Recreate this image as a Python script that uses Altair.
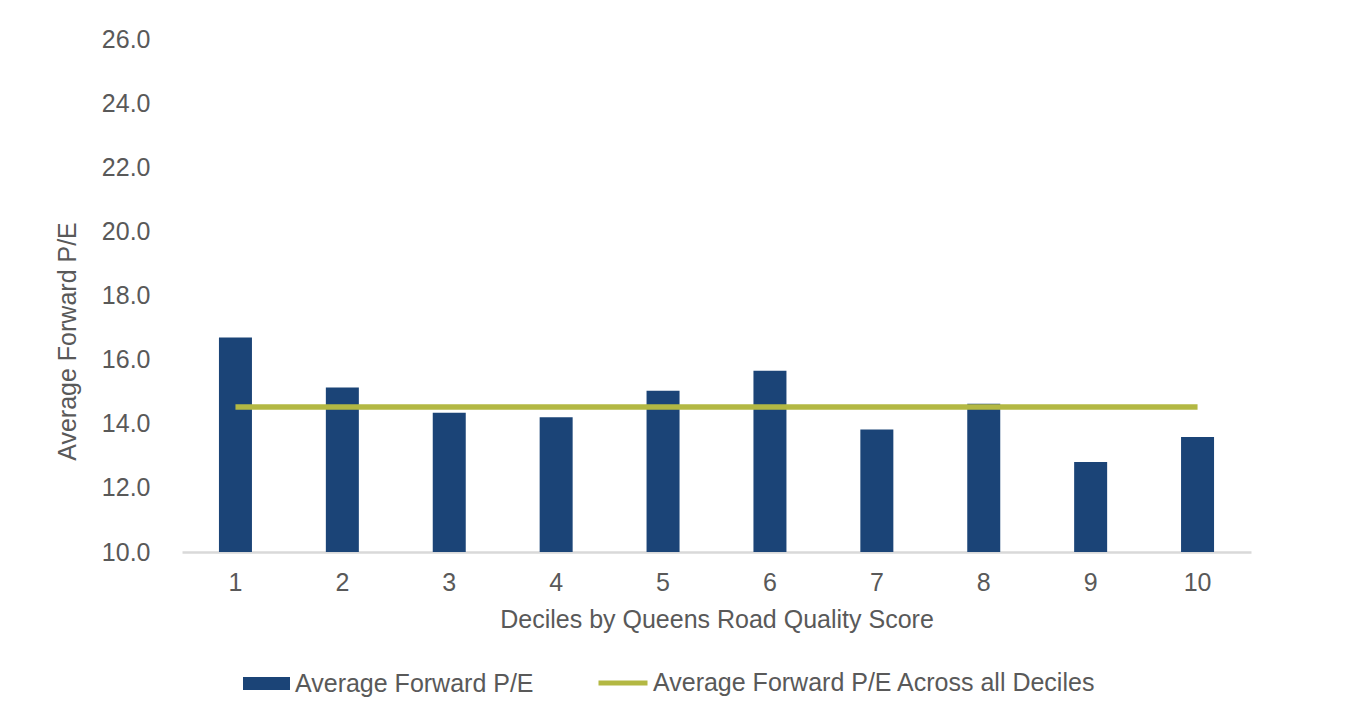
import altair as alt
import pandas as pd

deciles = [1, 2, 3, 4, 5, 6, 7, 8, 9, 10]
avg_pe = [16.69, 15.13, 14.34, 14.20, 15.03, 15.65, 13.82, 14.62, 12.81, 13.59]
overall_avg = 14.52
bar_series = "Average Forward P/E"
line_series = "Average Forward P/E Across all Deciles"
y_ticks = [10, 12, 14, 16, 18, 20, 22, 24, 26]

FONT = "Liberation Sans"
GRAY = "#595959"
BAR_COLOR = "#1B4477"
LINE_COLOR = "#B3B843"
FS = 25

bars_df = pd.DataFrame({"decile": deciles, "pe": avg_pe, "series": bar_series})
line_df = pd.DataFrame({
    "decile": [deciles[0], deciles[-1]],
    "pe": [overall_avg, overall_avg],
    "series": line_series,
})

x_enc = alt.X(
    "decile:O",
    sort=deciles,
    title="Deciles by Queens Road Quality Score",
    scale=alt.Scale(paddingInner=0.69, paddingOuter=0.345),
    axis=alt.Axis(
        labelAngle=0, ticks=False, domainColor="#D9D9D9", domainWidth=2.5,
        labelPadding=18, titlePadding=12, labelFontSize=FS, titleFontSize=FS,
        labelColor=GRAY, titleColor=GRAY, labelFont=FONT, titleFont=FONT,
        titleFontWeight="normal",
    ),
)
y_enc = alt.Y(
    "pe:Q",
    title="Average Forward P/E",
    scale=alt.Scale(domain=[10, 26], zero=False, nice=False),
    axis=alt.Axis(
        values=y_ticks, format=".1f", grid=False, domain=False, ticks=False,
        labelPadding=32, titlePadding=21, titleY=302,
        labelFontSize=FS, titleFontSize=FS,
        labelColor=GRAY, titleColor=GRAY, labelFont=FONT, titleFont=FONT,
        titleFontWeight="normal",
    ),
)

bars = alt.Chart(bars_df).mark_bar(size=33, clip=True).encode(
    x=x_enc,
    y=y_enc,
    color=alt.Color(
        "series:N",
        scale=alt.Scale(domain=[bar_series], range=[BAR_COLOR]),
        legend=alt.Legend(
            title=None, orient="none", legendX=61, legendY=621,
            symbolType="M-1,-0.28H1V0.28H-1Z", symbolSize=2209,
            symbolStrokeWidth=0, labelOffset=5, labelLimit=0,
            labelFontSize=FS, labelFont=FONT, labelColor=GRAY,
        ),
    ),
)

line = alt.Chart(line_df).mark_line(strokeWidth=5.5).encode(
    x=alt.X("decile:O", sort=deciles),
    y=alt.Y("pe:Q"),
    stroke=alt.Stroke(
        "series:N",
        scale=alt.Scale(domain=[line_series], range=[LINE_COLOR]),
        legend=alt.Legend(
            title=None, orient="none", legendX=414, legendY=617,
            symbolType="stroke", symbolSize=2401, symbolStrokeWidth=5,
            labelOffset=3, labelLimit=0,
            labelFontSize=FS, labelFont=FONT, labelColor=GRAY,
        ),
    ),
)

chart = alt.layer(bars, line).resolve_scale(color="independent").properties(
    width=1069,
    height=513,
    background="white",
    autosize=alt.AutoSizeParams(type="none"),
    padding={"left": 174, "top": 31, "right": 100, "bottom": 150},
).configure_view(stroke=None)

chart.save("out.html", embed_options={"renderer": "svg", "actions": False})
